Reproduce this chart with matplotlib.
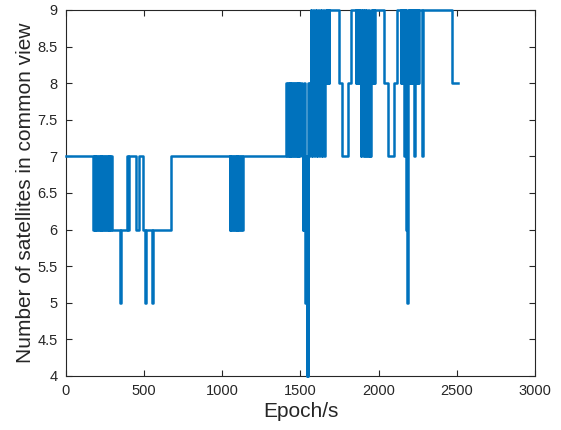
import matplotlib.pyplot as plt
from matplotlib.ticker import FormatStrFormatter

plt.rcParams['font.family'] = ['Liberation Sans', 'DejaVu Sans']

# Epochs (s) where the number of satellites in common view changes, and the new count
change_epoch = [
    0, 172, 177, 183, 188, 194, 199, 205, 211, 216, 222, 227, 233, 239, 244, 250,
    255, 261, 267, 272, 278, 283, 289, 295,
    348, 354, 393, 398, 404, 448, 465, 490, 507, 512, 552, 557, 672,
    1046, 1052, 1057, 1063, 1069, 1074, 1080, 1086, 1091, 1097, 1103, 1108, 1114, 1120, 1125, 1131,
    1408, 1414, 1419, 1425, 1431, 1436, 1442, 1448, 1453, 1459, 1465, 1470, 1476, 1482, 1487, 1493, 1499,
    1509, 1513, 1518, 1523, 1527, 1530, 1535, 1539, 1543, 1547, 1551, 1556,
    1560, 1564, 1568, 1572, 1576, 1580, 1584, 1588, 1592, 1596, 1600, 1604, 1608, 1612, 1616, 1620,
    1624, 1628, 1632, 1636, 1640, 1644, 1648, 1652, 1656, 1660, 1664, 1668, 1672, 1676, 1680, 1685,
    1745, 1766, 1802, 1820,
    1852, 1856, 1860, 1864, 1868, 1872, 1876, 1880, 1883, 1886, 1890, 1893, 1896, 1899, 1903, 1906,
    1909, 1912, 1916, 1919, 1922, 1925, 1929, 1932, 1935, 1938, 1942, 1945, 1949, 1953, 1957, 1961,
    1965, 1969, 1973, 1977,
    2037, 2058, 2096, 2117,
    2140, 2143, 2146, 2149, 2152, 2155, 2158, 2161, 2164, 2167, 2170, 2173, 2176, 2179, 2182, 2185,
    2188, 2191, 2194,
    2203, 2206, 2209, 2212, 2215, 2218, 2221, 2224, 2228, 2231, 2234, 2237, 2240, 2243, 2246, 2249,
    2252, 2256, 2276, 2281, 2470,
]
sat_count = [
    7, 6, 7, 6, 7, 6, 7, 6, 7, 6, 7, 6, 7, 6, 7, 6,
    7, 6, 7, 6, 7, 6, 7, 6,
    5, 6, 7, 6, 7, 6, 7, 6, 5, 6, 5, 6, 7,
    6, 7, 6, 7, 6, 7, 6, 7, 6, 7, 6, 7, 6, 7, 6, 7,
    8, 7, 8, 7, 8, 7, 8, 7, 8, 7, 8, 7, 8, 7, 8, 7, 8,
    7, 6, 7, 8, 7, 5, 7, 4, 7, 4, 8, 7,
    8, 9, 8, 7, 8, 9, 8, 7, 8, 9, 8, 7, 8, 9, 8, 7,
    8, 9, 8, 7, 8, 9, 8, 7, 8, 9, 8, 9, 8, 9, 8, 9,
    8, 7, 8, 9,
    8, 9, 8, 9, 8, 9, 8, 9, 8, 7, 8, 9, 8, 7, 8, 9,
    8, 7, 8, 9, 8, 7, 8, 9, 8, 7, 8, 7, 8, 9, 8, 9,
    8, 9, 8, 9,
    8, 7, 8, 9,
    8, 9, 8, 9, 8, 9, 8, 9, 7, 9, 8, 9, 6, 8, 5, 8,
    9, 8, 9,
    8, 9, 8, 9, 8, 9, 8, 9, 7, 9, 8, 9, 8, 9, 8, 9,
    8, 9, 7, 9, 8,
]
last_epoch = 2506

x = change_epoch + [last_epoch]
y = sat_count + [sat_count[-1]]

fig = plt.figure(figsize=(5.61, 4.30), dpi=100)
ax = fig.add_axes([0.1176, 0.1256, 0.8361, 0.8512])
ax.step(x, y, where='post', color='#0072BD', linewidth=1.8, clip_on=False, zorder=3)

ax.set_xlim(0, 3000)
ax.set_ylim(4, 9)
ax.set_xticks(range(0, 3001, 500))
ax.set_yticks([4, 4.5, 5, 5.5, 6, 6.5, 7, 7.5, 8, 8.5, 9])
ax.yaxis.set_major_formatter(FormatStrFormatter('%g'))
ax.tick_params(direction='in', top=True, right=True, length=4, width=0.8,
               labelsize=10.5, colors='#262626', pad=6)
for s in ax.spines.values():
    s.set_color('#262626')
    s.set_linewidth(0.8)

ax.set_xlabel('Epoch/s', fontsize=15, color='#262626', labelpad=3)
ax.set_ylabel('Number of satellites in common view', fontsize=15, color='#262626', labelpad=2)

fig.savefig('out.png', dpi=100)
